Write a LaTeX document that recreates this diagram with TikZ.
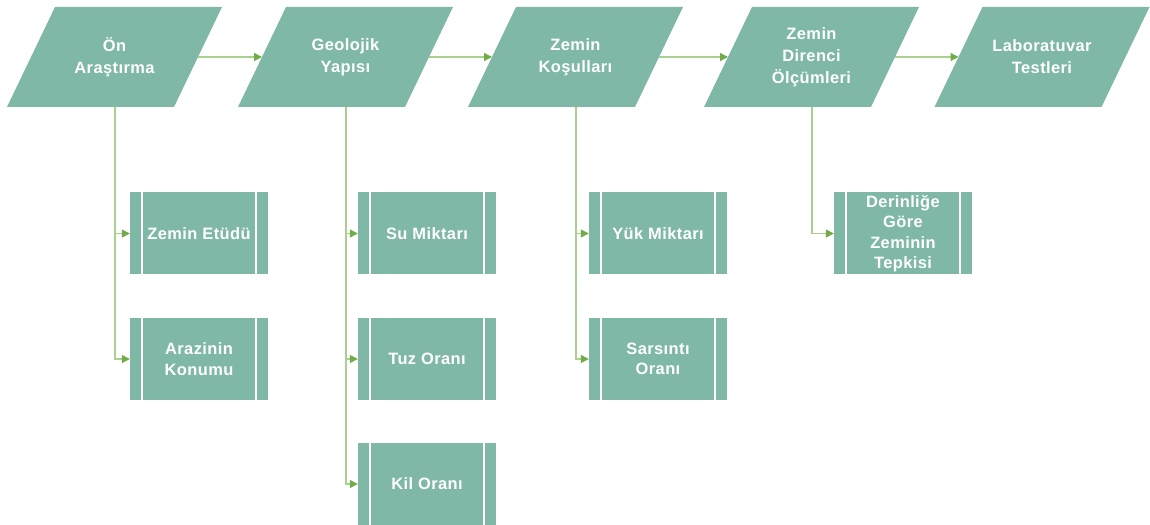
\documentclass[tikz,border=0pt]{standalone}
\usepackage{fontspec}
\newfontfamily\lab[LetterSpace=2.5]{Liberation Sans}
\usetikzlibrary{arrows.meta}
\definecolor{teal1}{RGB}{127,184,166}
\definecolor{lineg}{RGB}{169,208,142}
\definecolor{tipg}{RGB}{112,173,71}
\tikzset{
  x=1bp, y=-1bp,
  conn/.style={draw=lineg, line width=1.3bp, -{Triangle[length=8bp,width=8bp,fill=tipg,color=tipg]}},
  ptext/.style={text=white, font=\lab\bfseries\fontsize{16.5}{22}\selectfont, align=center, inner sep=0pt},
  subp/.style={fill=teal1, minimum width=138bp, minimum height=82bp, inner sep=0pt, text=white,
    font=\lab\bfseries\fontsize{16.5}{20.5}\selectfont, align=center,
    path picture={
      \draw[white, line width=1.2bp] ([xshift=12bp]path picture bounding box.north west) -- ([xshift=12bp]path picture bounding box.south west);
      \draw[white, line width=1.2bp] ([xshift=-12bp]path picture bounding box.north east) -- ([xshift=-12bp]path picture bounding box.south east);
    }},
}
\newcommand\parabox[3]{%
  \fill[teal1] ({#2-59.5},7) -- ({#2+107.5},7) -- ({#2+59.5},107) -- ({#2-107.5},107) -- cycle;
  \node[ptext] (#1) at (#2,57) {#3};
  \coordinate (#1-l) at ({#2-83.5},57);
  \coordinate (#1-r) at ({#2+83.5},57);
  \coordinate (#1-b) at ({#2+0.5},107);
}
\begin{document}
\begin{tikzpicture}
\useasboundingbox[fill=white] (0,0) rectangle (1150,525);
\parabox{p1}{114.5}{Ön\\Araştırma}
\parabox{p2}{345.5}{Geolojik\\Yapısı}
\parabox{p3}{575.5}{Zemin\\Koşulları}
\parabox{p4}{811.5}{Zemin\\Direnci\\Ölçümleri}
\parabox{p5}{1042}{Laboratuvar\\Testleri}

\draw[conn] (p1-r) -- (p2-l);
\draw[conn] (p2-r) -- (p3-l);
\draw[conn] (p3-r) -- (p4-l);
\draw[conn] (p4-r) -- (p5-l);

\node[subp] (a1) at (199,233.5) {Zemin Etüdü};
\node[subp] (a2) at (199,359) {Arazinin\\Konumu};
\node[subp] (b1) at (427,233.5) {Su Miktarı};
\node[subp] (b2) at (427,359) {Tuz Oranı};
\node[subp] (b3) at (427,484) {Kil Oranı};
\node[subp] (c1) at (658,233.5) {Yük Miktarı};
\node[subp] (c2) at (658,359) {Sarsıntı\\Oranı};
\node[subp] (d1) at (903,233.5) {Derinliğe\\Göre\\Zeminin\\Tepkisi};

\draw[conn] (p1-b) |- (a1.west);
\draw[conn] (p1-b) |- (a2.west);
\draw[conn] (p2-b) |- (b1.west);
\draw[conn] (p2-b) |- (b2.west);
\draw[conn] (p2-b) |- (b3.west);
\draw[conn] (p3-b) |- (c1.west);
\draw[conn] (p3-b) |- (c2.west);
\draw[conn] (p4-b) |- (d1.west);
\end{tikzpicture}
\end{document}
